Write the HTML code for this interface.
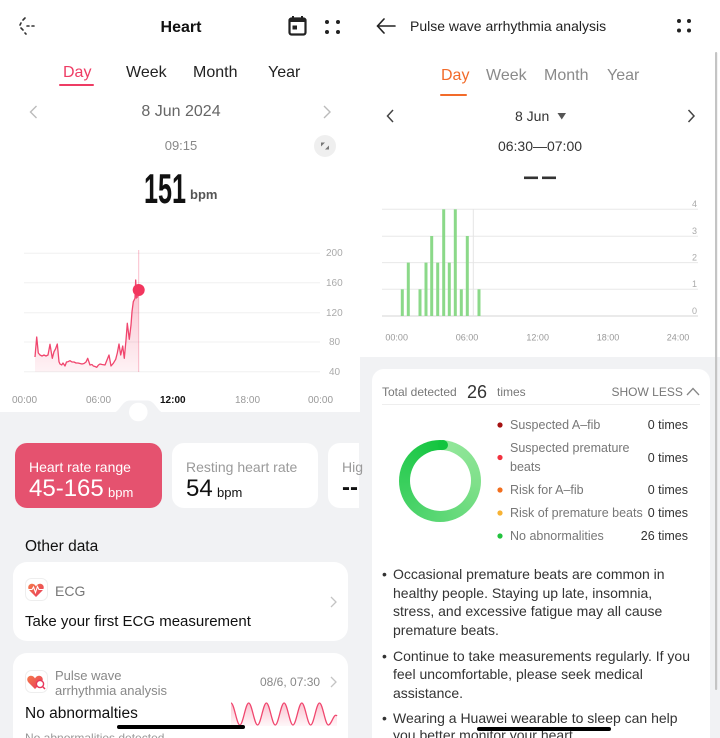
<!DOCTYPE html>
<html><head><meta charset="utf-8">
<style>
*{margin:0;padding:0;box-sizing:border-box}
html,body{width:720px;height:738px;overflow:hidden;background:#fff}
#r{position:relative;width:720px;height:738px;overflow:hidden;font-family:"Liberation Sans",Arial,sans-serif;background:#fff}
.a{position:absolute}
.t{position:absolute;white-space:nowrap;line-height:1}
.card{position:absolute;background:#fff;border-radius:13px}
</style></head><body><div id="r">

<!-- backgrounds -->
<div class="a" style="left:0;top:412px;width:360px;height:326px;background:#f1f2f4"></div>
<div class="a" style="left:360px;top:357px;width:360px;height:381px;background:#f1f2f4"></div>

<!-- left cards -->
<div class="card" style="left:15px;top:443px;width:147px;height:65px;background:#e5526f;border-radius:12px"></div>
<div class="card" style="left:172px;top:443px;width:146px;height:65px;border-radius:12px"></div>
<div class="card" style="left:328px;top:443px;width:31px;height:65px;border-radius:12px 0 0 12px"></div>
<div class="card" style="left:13px;top:562px;width:335px;height:79px;border-radius:14px"></div>
<div class="card" style="left:13px;top:653px;width:335px;height:100px;border-radius:14px"></div>

<!-- right card -->
<div class="card" style="left:372px;top:369px;width:338px;height:400px;border-radius:12px"></div>

<!-- donut -->
<div class="a" style="left:399px;top:439.5px;width:82px;height:82px;border-radius:50%;background:conic-gradient(from 5deg,#93e79b 0%,#7fe08a 25%,#52d56f 55%,#2fcd55 80%,#12c43e 100%)"></div>
<div class="a" style="left:409.5px;top:450px;width:61px;height:61px;border-radius:50%;background:#fff"></div>
<div class="a" style="left:438px;top:439.6px;width:10px;height:10px;border-radius:50%;background:#12c43e"></div>

<svg class="a" style="left:0;top:0" width="720" height="738" viewBox="0 0 720 738">
<defs>
<linearGradient id="pf" x1="0" y1="0" x2="0" y2="1">
<stop offset="0" stop-color="#f0466e" stop-opacity="0.35"/>
<stop offset="1" stop-color="#f0466e" stop-opacity="0.07"/>
</linearGradient>
<linearGradient id="wf" x1="0" y1="0" x2="0" y2="1">
<stop offset="0" stop-color="#f0466e" stop-opacity="0.32"/>
<stop offset="1" stop-color="#f0466e" stop-opacity="0.04"/>
</linearGradient>
<linearGradient id="hg" x1="0" y1="0" x2="1" y2="1">
<stop offset="0" stop-color="#f47a4a"/>
<stop offset="1" stop-color="#e8385c"/>
</linearGradient>
</defs>

<!-- left header icons -->
<g stroke="#333" stroke-width="1.6" fill="none" stroke-linecap="round">
<path d="M25,18 L23,20 M21,23 L20,25 M21,28 L23,30 M25,33 L26,34"/>
<path d="M27,26 L29,26 M32,26 L34,26"/>
</g>
<rect x="289.5" y="18.5" width="16" height="16" rx="2" fill="none" stroke="#222" stroke-width="2.2"/>
<rect x="289.5" y="18.5" width="16" height="3.5" fill="#222"/>
<rect x="292" y="16" width="2" height="4" fill="#222"/>
<rect x="301" y="16" width="2" height="4" fill="#222"/>
<rect x="292.5" y="25.5" width="4.5" height="4" fill="#222"/>
<g fill="#222"><circle cx="327" cy="22" r="2"/><circle cx="338" cy="22" r="2"/><circle cx="327" cy="32" r="2"/><circle cx="338" cy="32" r="2"/></g>

<!-- tab underline left -->
<rect x="59" y="84" width="35" height="2" rx="1" fill="#ee3c64"/>
<!-- date chevrons left -->
<polyline points="36.5,106 30.5,112 36.5,118" fill="none" stroke="#bbb" stroke-width="1.4"/>
<polyline points="324,106 330,112 324,118" fill="none" stroke="#bbb" stroke-width="1.4"/>
<!-- expand icon -->
<circle cx="325" cy="146" r="11" fill="#efefef"/>
<path d="M321,142.5 L325,142.5 L321,146.5 Z M329,149.5 L325,149.5 L329,145.5 Z" fill="#777"/>

<!-- left chart grid -->
<g stroke="#f0f0f0" stroke-width="1">
<line x1="24" y1="253.3" x2="320" y2="253.3"/>
<line x1="24" y1="282.7" x2="320" y2="282.7"/>
<line x1="24" y1="312.7" x2="320" y2="312.7"/>
<line x1="24" y1="342" x2="320" y2="342"/>
<line x1="24" y1="371.7" x2="320" y2="371.7"/>
</g>
<line x1="138.7" y1="250" x2="138.7" y2="372" stroke="#f0466e" stroke-opacity="0.35" stroke-width="1"/>
<polygon fill="url(#pf)" points="35,371.7 35,357 36.7,337 38.3,353 40,355 42,356 44,355 46,356 48,355 50,344.3 52.3,358.3 54,351.7 55.5,349 57.3,344 59,361.7 60,364 61.7,365 63,363 65,366 66.5,362 68,361.7 70,360.7 72,362 74,362 76,363 78,363 80,363.5 82,364 84,363.5 86,362 87.7,358.3 90,365 92,364.5 93.3,366 95,366.5 96.7,367.3 98.5,365 100,364 102,364.5 105,365 107,360 109,355 111,366 113.3,363.3 115.7,359.3 117.3,353 119,344 120.7,355 122.7,346 124.3,358.3 126,340 127.3,323.3 129.3,339.3 131,325 132,311.7 133.3,301.7 135,298.3 135.7,280 136.4,298 137.7,296.7 138.7,292 138.7,371.7"/>
<polyline fill="none" stroke="#f0466e" stroke-width="1.3" stroke-linejoin="round" points="35,357 36.7,337 38.3,353 40,355 42,356 44,355 46,356 48,355 50,344.3 52.3,358.3 54,351.7 55.5,349 57.3,344 59,361.7 60,364 61.7,365 63,363 65,366 66.5,362 68,361.7 70,360.7 72,362 74,362 76,363 78,363 80,363.5 82,364 84,363.5 86,362 87.7,358.3 90,365 92,364.5 93.3,366 95,366.5 96.7,367.3 98.5,365 100,364 102,364.5 105,365 107,360 109,355 111,366 113.3,363.3 115.7,359.3 117.3,353 119,344 120.7,355 122.7,346 124.3,358.3 126,340 127.3,323.3 129.3,339.3 131,325 132,311.7 133.3,301.7 135,298.3 135.7,280 136.4,298 137.7,296.7 138.7,292"/>
<circle cx="138.7" cy="290" r="6" fill="#f2365e"/>

<!-- notch -->
<path d="M112,413 C120,413 121,400.5 130,400.5 L147,400.5 C156,400.5 157,413 165,413 Z" fill="#f1f2f4"/>
<circle cx="138.3" cy="412" r="9.3" fill="#fff"/>

<!-- ECG icon -->
<rect x="25.5" y="578.5" width="22" height="22" rx="6" fill="#fff" stroke="#eee"/>
<path d="M36,597 L29.5,590.5 C27.3,588.3 28,584.3 31.5,583.8 C33.6,583.5 35,584.8 36,586.4 C37,584.8 38.4,583.5 40.5,583.8 C44,584.3 44.7,588.3 42.5,590.5 Z" fill="url(#hg)"/>
<polyline points="28.5,589.5 32,589.5 33.5,587 35.5,592.5 37.5,586.5 39,589.5 43.5,589.5" fill="none" stroke="#fff" stroke-width="1.1"/>
<polyline points="331,597 336,602 331,607" fill="none" stroke="#c4c4c4" stroke-width="1.3"/>

<!-- pulse icon -->
<rect x="25.5" y="670.5" width="22" height="22" rx="6" fill="#fff" stroke="#eee"/>
<path d="M35,689 L28.5,682.5 C26.3,680.3 27,676.3 30.5,675.8 C32.6,675.5 34,676.8 35,678.4 C36,676.8 37.4,675.5 39.5,675.8 C43,676.3 43.7,680.3 41.5,682.5 Z" fill="url(#hg)"/>
<circle cx="40" cy="684" r="3.6" fill="#fff" stroke="#e8385c" stroke-width="1.4"/>
<line x1="42.5" y1="686.5" x2="45" y2="689" stroke="#e8385c" stroke-width="1.5"/>
<polyline points="331,677 336,682 331,687" fill="none" stroke="#c4c4c4" stroke-width="1.3"/>

<!-- wave -->
<path fill="url(#wf)" d="M231,703 C234.2,703 236.65,725 239.85,725 C243.05,725 245.5,703 248.7,703 C251.9,703 254.35,725 257.55,725 C260.75,725 263.2,703 266.4,703 C269.6,703 272.05,725 275.25,725 C278.45,725 280.9,703 284.1,703 C287.3,703 289.75,725 292.95,725 C296.15,725 298.6,703 301.8,703 C305,703 307.45,725 310.65,725 C313.85,725 316.3,703 319.5,703 C322.7,703 325.15,725 328.35,725 C331.55,725 334,712 337,716 L337,726 L231,726 Z"/>
<path fill="none" stroke="#f0466e" stroke-width="1.3" d="M231,703 C234.2,703 236.65,725 239.85,725 C243.05,725 245.5,703 248.7,703 C251.9,703 254.35,725 257.55,725 C260.75,725 263.2,703 266.4,703 C269.6,703 272.05,725 275.25,725 C278.45,725 280.9,703 284.1,703 C287.3,703 289.75,725 292.95,725 C296.15,725 298.6,703 301.8,703 C305,703 307.45,725 310.65,725 C313.85,725 316.3,703 319.5,703 C322.7,703 325.15,725 328.35,725 C331.55,725 334,712 337,716"/>

<!-- right header -->
<g stroke="#222" stroke-width="1.6" fill="none" stroke-linecap="round" stroke-linejoin="round">
<line x1="377.5" y1="26" x2="395" y2="26"/>
<polyline points="384,19 377.5,26 384,33"/>
</g>
<g fill="#222"><circle cx="679" cy="21" r="2"/><circle cx="689" cy="21" r="2"/><circle cx="679" cy="30.5" r="2"/><circle cx="689" cy="30.5" r="2"/></g>
<rect x="440" y="94" width="27" height="2" rx="1" fill="#f26b2a"/>
<polyline points="393,110 387.5,116 393,122" fill="none" stroke="#444" stroke-width="1.5"/>
<polyline points="688.5,110 694,116 688.5,122" fill="none" stroke="#444" stroke-width="1.5"/>
<polygon points="557.5,113 566,113 561.75,119.5" fill="#555"/>
<rect x="524" y="176.5" width="14" height="2.6" fill="#333"/>
<rect x="542" y="176.5" width="14" height="2.6" fill="#333"/>

<!-- bar chart -->
<g stroke="#e8e8e8" stroke-width="1">
<line x1="382" y1="209.3" x2="698" y2="209.3"/>
<line x1="382" y1="236.3" x2="698" y2="236.3"/>
<line x1="382" y1="262.6" x2="698" y2="262.6"/>
<line x1="382" y1="289.3" x2="698" y2="289.3"/>
</g>
<line x1="382" y1="316" x2="698" y2="316" stroke="#d4d4d4" stroke-width="1"/>
<line x1="473.3" y1="209" x2="473.3" y2="316" stroke="#e4e4e4" stroke-width="1"/>
<g fill="#8bd989">
<rect x="400.8" y="289.3" width="3" height="26.7"/>
<rect x="406.8" y="262.6" width="3" height="53.4"/>
<rect x="418.5" y="289.3" width="3" height="26.7"/>
<rect x="424.5" y="262.6" width="3" height="53.4"/>
<rect x="430.2" y="236" width="3" height="80"/>
<rect x="436.2" y="262.6" width="3" height="53.4"/>
<rect x="442.2" y="209.3" width="3" height="106.7"/>
<rect x="447.8" y="262.6" width="3" height="53.4"/>
<rect x="453.8" y="209.3" width="3" height="106.7"/>
<rect x="459.8" y="289.3" width="3" height="26.7"/>
<rect x="465.8" y="236" width="3" height="80"/>
<rect x="477.5" y="289.3" width="3" height="26.7"/>
</g>
<g font-family="Liberation Sans, Arial, sans-serif" font-size="9" fill="#aaa" text-anchor="end">
<text x="697" y="207">4</text>
<text x="697" y="234">3</text>
<text x="697" y="260.5">2</text>
<text x="697" y="287">1</text>
<text x="697" y="314">0</text>
</g>
<g font-family="Liberation Sans, Arial, sans-serif" font-size="9" fill="#999" text-anchor="middle">
<text x="396.7" y="340.5">00:00</text>
<text x="467" y="340.5">06:00</text>
<text x="537.7" y="340.5">12:00</text>
<text x="608" y="340.5">18:00</text>
<text x="678" y="340.5">24:00</text>
</g>

<!-- right card details -->
<polyline points="687,395 693,388.5 699,395" fill="none" stroke="#888" stroke-width="1.3"/>
<line x1="382" y1="404.5" x2="700" y2="404.5" stroke="#eee" stroke-width="1"/>
<circle cx="500" cy="425" r="2.6" fill="#a51212"/>
<circle cx="500" cy="457.5" r="2.6" fill="#f2323f"/>
<circle cx="500" cy="490" r="2.6" fill="#f26e1e"/>
<circle cx="500" cy="513" r="2.6" fill="#f7b234"/>
<circle cx="500" cy="536" r="2.6" fill="#22c23e"/>

<!-- scrollbar -->
<rect x="715" y="52" width="2.2" height="638" rx="1" fill="#c4c4c4"/>
</svg>

<!-- LEFT TEXT -->
<div class="t" style="left:131px;width:100px;text-align:center;top:19.5px;font-size:16px;font-weight:bold;color:#111">Heart</div>
<div class="t" style="left:63px;top:64.5px;font-size:16px;color:#ee3c64">Day</div>
<div class="t" style="left:126px;top:64.5px;font-size:16px;color:#222">Week</div>
<div class="t" style="left:193px;top:64.5px;font-size:16px;color:#222">Month</div>
<div class="t" style="left:268px;top:64.5px;font-size:16px;color:#222">Year</div>
<div class="t" style="left:111px;width:140px;text-align:center;top:104px;font-size:16px;color:#666">8 Jun 2024</div>
<div class="t" style="left:141px;width:80px;text-align:center;top:139.2px;font-size:13px;color:#888">09:15</div>
<div class="t" style="left:144px;top:167.5px;font-size:42px;font-weight:bold;color:#111;transform:scaleX(0.6);transform-origin:0 0;line-height:42px">151</div>
<div class="t" style="left:190px;top:188px;font-size:13px;font-weight:bold;color:#555;line-height:13px">bpm</div>

<div class="t" style="left:326px;top:249.3px;font-size:10px;color:#aaa">200</div>
<div class="t" style="left:326px;top:278.7px;font-size:10px;color:#aaa">160</div>
<div class="t" style="left:326px;top:308.7px;font-size:10px;color:#aaa">120</div>
<div class="t" style="left:329px;top:338px;font-size:10px;color:#aaa">80</div>
<div class="t" style="left:329px;top:367.7px;font-size:10px;color:#aaa">40</div>

<div class="t" style="left:12px;top:395.8px;font-size:10px;color:#999">00:00</div>
<div class="t" style="left:86px;top:395.8px;font-size:10px;color:#999">06:00</div>
<div class="t" style="left:160px;top:395.8px;font-size:10px;color:#111;font-weight:bold">12:00</div>
<div class="t" style="left:235px;top:395.8px;font-size:10px;color:#999">18:00</div>
<div class="t" style="left:308px;top:395.8px;font-size:10px;color:#999">00:00</div>

<div class="t" style="left:29px;top:460px;font-size:14px;color:#fff">Heart rate range</div>
<div class="t" style="left:29px;top:476.7px;font-size:24px;color:#fff;line-height:24px">45-165</div>
<div class="t" style="left:108px;top:486px;font-size:13px;color:#fff;line-height:13px">bpm</div>
<div class="t" style="left:186px;top:460px;font-size:14px;color:#9a9a9a">Resting heart rate</div>
<div class="t" style="left:186px;top:476.7px;font-size:24px;color:#111;line-height:24px">54</div>
<div class="t" style="left:217px;top:486px;font-size:13px;color:#111;line-height:13px">bpm</div>
<div class="t" style="left:342px;top:460px;font-size:14px;color:#9a9a9a">Hig</div>
<div class="t" style="left:342px;top:475.7px;font-size:24px;color:#111;font-weight:bold;line-height:24px">--</div>

<div class="t" style="left:25px;top:539px;font-size:15.5px;color:#111">Other data</div>
<div class="t" style="left:55px;top:583.5px;font-size:14px;color:#777">ECG</div>
<div class="t" style="left:25px;top:614px;font-size:15px;color:#111">Take your first ECG measurement</div>
<div class="t" style="left:55px;top:668.5px;font-size:13px;color:#888">Pulse wave</div>
<div class="t" style="left:55px;top:683.5px;font-size:13px;color:#888">arrhythmia analysis</div>
<div class="t" style="left:260px;top:676.3px;font-size:12px;color:#888">08/6, 07:30</div>
<div class="t" style="left:25px;top:705.5px;font-size:15.5px;color:#111">No abnormalties</div>
<div class="t" style="left:25px;top:731.5px;font-size:12px;color:#999">No abnormalities detected</div>

<!-- RIGHT TEXT -->
<div class="t" style="left:410px;top:19px;font-size:14px;color:#222">Pulse wave arrhythmia analysis</div>
<div class="t" style="left:441px;top:67.5px;font-size:16px;color:#f26b2a">Day</div>
<div class="t" style="left:486px;top:67.5px;font-size:16px;color:#8a8a8a">Week</div>
<div class="t" style="left:544px;top:67.5px;font-size:16px;color:#8a8a8a">Month</div>
<div class="t" style="left:607px;top:67.5px;font-size:16px;color:#8a8a8a">Year</div>
<div class="t" style="left:515px;top:109.2px;font-size:14px;color:#333">8 Jun</div>
<div class="t" style="left:490px;width:100px;text-align:center;top:139.2px;font-size:14px;color:#333">06:30—07:00</div>

<div class="t" style="left:382px;top:386px;font-size:12px;color:#777">Total detected</div>
<div class="t" style="left:467px;top:383px;font-size:18px;color:#333;line-height:18px">26</div>
<div class="t" style="left:497px;top:386px;font-size:12px;color:#777">times</div>
<div class="t" style="left:611.5px;top:386px;font-size:12px;color:#777">SHOW LESS</div>

<div class="t" style="left:510px;top:419px;font-size:12.5px;color:#777">Suspected A–fib</div>
<div class="t" style="left:510px;top:442.3px;font-size:12.5px;color:#777">Suspected premature</div>
<div class="t" style="left:510px;top:460.7px;font-size:12.5px;color:#777">beats</div>
<div class="t" style="left:510px;top:483.7px;font-size:12.5px;color:#777">Risk for A–fib</div>
<div class="t" style="left:510px;top:507px;font-size:12.5px;color:#777">Risk of premature beats</div>
<div class="t" style="left:510px;top:529.7px;font-size:12.5px;color:#777">No abnormalities</div>
<div class="t" style="left:588px;width:100px;text-align:right;top:419px;font-size:12.5px;color:#333">0 times</div>
<div class="t" style="left:588px;width:100px;text-align:right;top:451.5px;font-size:12.5px;color:#333">0 times</div>
<div class="t" style="left:588px;width:100px;text-align:right;top:483.7px;font-size:12.5px;color:#333">0 times</div>
<div class="t" style="left:588px;width:100px;text-align:right;top:507px;font-size:12.5px;color:#333">0 times</div>
<div class="t" style="left:588px;width:100px;text-align:right;top:529.7px;font-size:12.5px;color:#333">26 times</div>

<div style="position:absolute;left:0;top:0;font-size:14px;color:#333">
<div class="t" style="left:382px;top:567.2px">•</div>
<div class="t" style="left:393px;top:567.2px">Occasional premature beats are common in</div>
<div class="t" style="left:393px;top:585.9px">healthy people. Staying up late, insomnia,</div>
<div class="t" style="left:393px;top:604.2px">stress, and excessive fatigue may all cause</div>
<div class="t" style="left:393px;top:622.5px">premature beats.</div>
<div class="t" style="left:382px;top:648.5px">•</div>
<div class="t" style="left:393px;top:648.5px">Continue to take measurements regularly. If you</div>
<div class="t" style="left:393px;top:666.9px">feel uncomfortable, please seek medical</div>
<div class="t" style="left:393px;top:685.5px">assistance.</div>
<div class="t" style="left:382px;top:710.9px">•</div>
<div class="t" style="left:393px;top:710.9px">Wearing a Huawei wearable to sleep can help</div>
<div class="t" style="left:393px;top:728.2px">you better monitor your heart.</div>
</div>

<!-- home indicators -->
<div class="a" style="left:117px;top:725px;width:128px;height:4px;border-radius:2px;background:#000"></div>
<div class="a" style="left:477px;top:727px;width:134px;height:4px;border-radius:2px;background:#000"></div>

</div></body></html>
